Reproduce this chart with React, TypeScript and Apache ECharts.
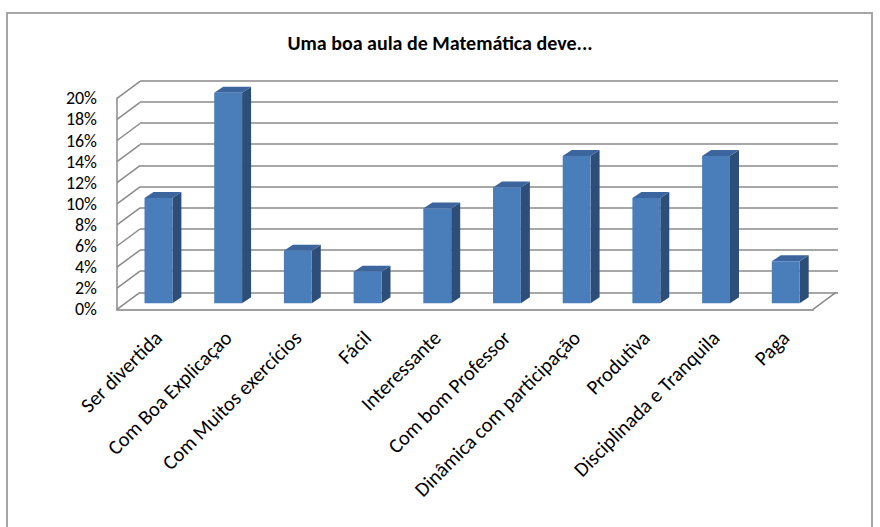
import React, { useEffect, useRef } from "react";
import * as echarts from "echarts";

const categories = [
  "Ser divertida",
  "Com Boa Explicaçao",
  "Com Muitos exercícios",
  "Fácil",
  "Interessante",
  "Com bom Professor",
  "Dinâmica com participação",
  "Produtiva",
  "Disciplinada e Tranquila",
  "Paga",
];
const values = [10, 20, 5, 3, 9, 11, 14, 10, 14, 4];
const yTicks = [0, 2, 4, 6, 8, 10, 12, 14, 16, 18, 20];
const titleText = "Uma boa aula de Matemática deve...";

const FONT = "Calibri, Carlito, Lato, sans-serif";
const FRONT = "#4A7EBB";
const SIDE = "#2E4E7A";
const TOP = "#3B659C";
const GRID_COLOR = "#8a8a8a";
const BAR_DX = 9;
const BAR_DY = -6;
const WALL_DX = 23;
const WALL_DY = -17;

export default function App() {
  const ref = useRef<HTMLDivElement>(null);
  useEffect(() => {
    if (!ref.current) return;
    const chart = echarts.init(ref.current, undefined, { renderer: "svg" });
    const option: any = {
      animation: false,
      backgroundColor: "#ffffff",
      title: {
        text: titleText,
        left: "center",
        top: 33,
        padding: [0, 0, 0, 22],
        textStyle: { fontFamily: FONT, fontSize: 20, fontWeight: "bold", color: "#000" },
      },
      graphic: [
        {
          type: "rect",
          shape: { x: 7, y: 13, width: 865, height: 530 },
          style: { fill: "none", stroke: "#a6a6a6", lineWidth: 2 },
          z: 100,
        },
      ],
      grid: [
        { left: 117, top: 98.3, width: 696, height: 211 },
        { left: 140, top: 80.7, width: 698, height: 211.6 },
        { left: 123.6, top: 92.7, width: 697, height: 210.6 },
      ],
      xAxis: [
        {
          gridIndex: 0,
          type: "category",
          data: categories,
          axisLine: { show: true, lineStyle: { color: "#a0a0a0", width: 2 } },
          axisTick: { show: false },
          axisLabel: { show: false },
        },
        {
          gridIndex: 1,
          type: "category",
          data: categories,
          show: false,
        },
        {
          gridIndex: 2,
          type: "category",
          data: categories,
          axisLine: { show: false },
          axisTick: { show: false },
          axisLabel: {
            show: true,
            interval: 0,
            rotate: 45,
            margin: 31,
            fontFamily: FONT,
            fontSize: 20.5,
            color: "#000",
          },
        },
      ],
      yAxis: [
        {
          gridIndex: 0,
          type: "value",
          min: 0,
          max: 20,
          interval: 2,
          axisLine: { show: true, lineStyle: { color: GRID_COLOR, width: 1.5 } },
          axisTick: { show: false },
          splitLine: { show: false },
          axisLabel: {
            formatter: "{value}%",
            margin: 20,
            fontFamily: FONT,
            fontSize: 18,
            color: "#000",
          },
        },
        {
          gridIndex: 1,
          type: "value",
          min: 0,
          max: 20,
          interval: 2,
          axisLine: { show: false },
          axisTick: { show: false },
          axisLabel: { show: false },
          splitLine: { show: true, lineStyle: { color: GRID_COLOR, width: 1.5 } },
        },
        {
          gridIndex: 2,
          type: "value",
          min: 0,
          max: 20,
          interval: 2,
          show: false,
          splitLine: { show: false },
        },
      ],
      series: [
        {
          type: "custom",
          xAxisIndex: 0,
          yAxisIndex: 0,
          z: 1,
          silent: true,
          data: yTicks.map((v) => [0, v]),
          renderItem: (params: any, api: any) => {
            const cs = params.coordSys;
            const v = api.value(1);
            const y = api.coord([0, v])[1];
            const children: any[] = [
              {
                type: "line",
                shape: { x1: cs.x, y1: y, x2: cs.x + WALL_DX, y2: y + WALL_DY },
                style: { stroke: GRID_COLOR, lineWidth: 1.5 },
              },
            ];
            if (v === 0) {
              const xr = cs.x + cs.width;
              children.push({
                type: "line",
                shape: { x1: xr, y1: y, x2: xr + WALL_DX, y2: y + WALL_DY },
                style: { stroke: GRID_COLOR, lineWidth: 1.5 },
              });
            }
            return { type: "group", children };
          },
        },
        {
          type: "custom",
          xAxisIndex: 2,
          yAxisIndex: 2,
          z: 5,
          data: values.map((v, i) => [i, v]),
          renderItem: (params: any, api: any) => {
            const i = api.value(0);
            const v = api.value(1);
            const base = api.coord([i, 0]);
            const top = api.coord([i, v]);
            const w = api.size([1, 0])[0] * 0.4;
            const x0 = base[0] - w / 2;
            const x1 = base[0] + w / 2;
            return {
              type: "group",
              children: [
                {
                  type: "polygon",
                  shape: {
                    points: [
                      [x1, top[1]],
                      [x1 + BAR_DX, top[1] + BAR_DY],
                      [x1 + BAR_DX, base[1] + BAR_DY],
                      [x1, base[1]],
                    ],
                  },
                  style: { fill: SIDE },
                },
                {
                  type: "polygon",
                  shape: {
                    points: [
                      [x0, top[1]],
                      [x0 + BAR_DX, top[1] + BAR_DY],
                      [x1 + BAR_DX, top[1] + BAR_DY],
                      [x1, top[1]],
                    ],
                  },
                  style: { fill: TOP },
                },
                {
                  type: "rect",
                  shape: { x: x0, y: top[1], width: w, height: base[1] - top[1] },
                  style: { fill: FRONT },
                },
              ],
            };
          },
        },
      ],
    };
    chart.setOption(option);
    return () => chart.dispose();
  }, []);
  return (
    <div
      ref={ref}
      style={{ position: "absolute", left: 0, top: 0, width: 880, height: 527 }}
    />
  );
}
